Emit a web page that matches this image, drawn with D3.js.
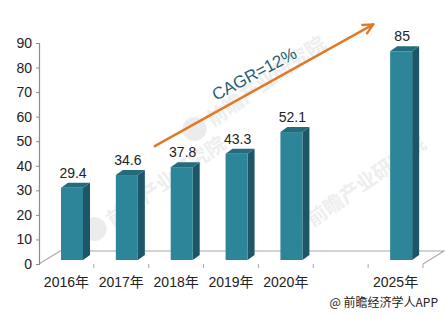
<!DOCTYPE html>
<html>
<head>
<meta charset="utf-8">
<script src="https://cdn.jsdelivr.net/npm/d3@7"></script>
<style>
	body {margin:0; background:#fff;}
	svg {display:block; font-family:"Liberation Sans", Arial, "Noto Sans CJK SC", sans-serif;}
</style>
</head>
<body>
<svg id="chart" width="445" height="315"></svg>
<script>
/*** Data ***/
const years  = ["2016年", "2017年", "2018年", "2019年", "2020年", "2025年"]
const values = [29.4, 34.6, 37.8, 43.3, 52.1, 85]
const slots  = ["2016年", "2017年", "2018年", "2019年", "2020年", "gap", "2025年"]
const yTicks = [0, 10, 20, 30, 40, 50, 60, 70, 80, 90]
const cagr   = "CAGR=12%"
const source = "@ 前瞻经济学人APP"

/*** Utils ***/
const DX = 7, DY = -5      // bar depth
const FX = 21, FY = -13    // floor depth
const LIFT = 4             // bars sit a bit behind the front edge
const C_FRONT = "#2c8598", C_SIDE = "#1d5666", C_TOP = "#246c7d"

const svg = d3.select("#chart")
const x = d3.scaleBand().domain(slots).range([39, 423]).padding(0)
const y = d3.scaleLinear().domain([0, 90]).range([264, 43])
const bw = 22

/*** Watermarks (faint, behind) ***/
const marks = [[150, 200], [250, 100], [350, 200]]
const wm = svg.append("g").attr("pointer-events", "none")
marks.forEach((m) => {
	var g = wm.append("g").attr("transform", "translate(" + m[0] + "," + m[1] + ") rotate(-35)")
	g.append("circle").attr("cx", -62).attr("cy", -8).attr("r", 12).attr("fill", "#ececec")
	g.append("text").text("前瞻产业研究院").attr("x", -46).attr("y", 1)
		.attr("font-size", 20).attr("font-weight", "bold").attr("fill", "#eeeeee")
		.attr("font-family", "Noto Sans CJK SC")
})

/*** Floor ***/
const y0 = y(0)
const floor = svg.append("g").attr("stroke", "#a8a8a8").attr("stroke-width", 1.2).attr("fill", "none")
floor.append("path").attr("d", d3.line()([[x.range()[0], y0], [x.range()[0]+FX, y0+FY], [x.range()[1]+FX, y0+FY], [x.range()[1], y0]]))

/*** Bars ***/
const bars = svg.append("g").selectAll("g").data(years).enter().append("g")
bars.each(function(d, i) {
	var g = d3.select(this)
	var l = x(d) + 22, r = l + bw
	var t = y(values[i]) - LIFT, b = y(0) - LIFT
	g.append("path").attr("fill", C_SIDE)
		.attr("d", d3.line()([[r, t], [r+DX, t+DY], [r+DX, b+DY], [r, b]]))
	g.append("path").attr("fill", C_TOP)
		.attr("d", d3.line()([[l, t], [l+DX, t+DY], [r+DX, t+DY], [r, t]]))
	g.append("rect").attr("fill", C_FRONT)
		.attr("x", l).attr("y", t).attr("width", bw).attr("height", b - t)
	g.append("text").text(values[i])
		.attr("x", l + bw/2 + 1).attr("y", t - 10)
		.attr("text-anchor", "middle").attr("font-size", 14).attr("fill", "#222")
})

/*** Axes ***/
const yAxis = svg.append("g").attr("transform", "translate(39,0)")
	.call(d3.axisLeft(y).tickValues(yTicks).tickSize(3).tickPadding(4))
yAxis.select(".domain").attr("stroke", "#8c8c8c").attr("stroke-width", 1.2)
yAxis.selectAll(".tick line").attr("stroke", "#8c8c8c")
yAxis.selectAll("text").attr("font-size", 14).attr("fill", "#222").attr("font-family", null)

const xAxis = svg.append("g")
xAxis.selectAll("line").data(slots.slice(1).concat(["end"])).enter().append("line")
	.attr("x1", (d, i) => x.range()[0] + (i+1)*x.bandwidth())
	.attr("x2", (d, i) => x.range()[0] + (i+1)*x.bandwidth())
	.attr("y1", y0).attr("y2", y0 + 4)
	.attr("stroke", "#a8a8a8")
xAxis.selectAll("text").data(years).enter().append("text")
	.text(d => d)
	.attr("x", d => x(d) + x.bandwidth()/2)
	.attr("y", y0 + 23)
	.attr("text-anchor", "middle").attr("font-size", 14).attr("fill", "#222")

/*** CAGR arrow ***/
const ax0 = x("2018年") + 6, ay0 = y(48)
const ax1 = x("gap") + 60, ay1 = y(97.6)
const ang = Math.atan2(ay1 - ay0, ax1 - ax0)
const arr = svg.append("g").attr("stroke", "#e07a26").attr("stroke-width", 2.4).attr("fill", "none")
	.attr("stroke-linecap", "round").attr("stroke-linejoin", "round")
arr.append("line").attr("x1", ax0).attr("y1", ay0).attr("x2", ax1).attr("y2", ay1)
arr.append("path").attr("d", d3.line()([
	[ax1 - 11*Math.cos(ang - 0.45), ay1 - 11*Math.sin(ang - 0.45)],
	[ax1, ay1],
	[ax1 - 11*Math.cos(ang + 0.45), ay1 - 11*Math.sin(ang + 0.45)]
]))
svg.append("text").text(cagr)
	.attr("transform", "translate(257,79) rotate(" + (ang*180/Math.PI + 1) + ")")
	.attr("text-anchor", "middle").attr("font-size", 17).attr("fill", "#1f6174")

/*** Source ***/
svg.append("text").text(source)
	.attr("x", 438).attr("y", 307)
	.attr("text-anchor", "end").attr("font-size", 12).attr("fill", "#222")
	.attr("font-family", "Noto Sans CJK SC, sans-serif")
</script>
</body>
</html>
